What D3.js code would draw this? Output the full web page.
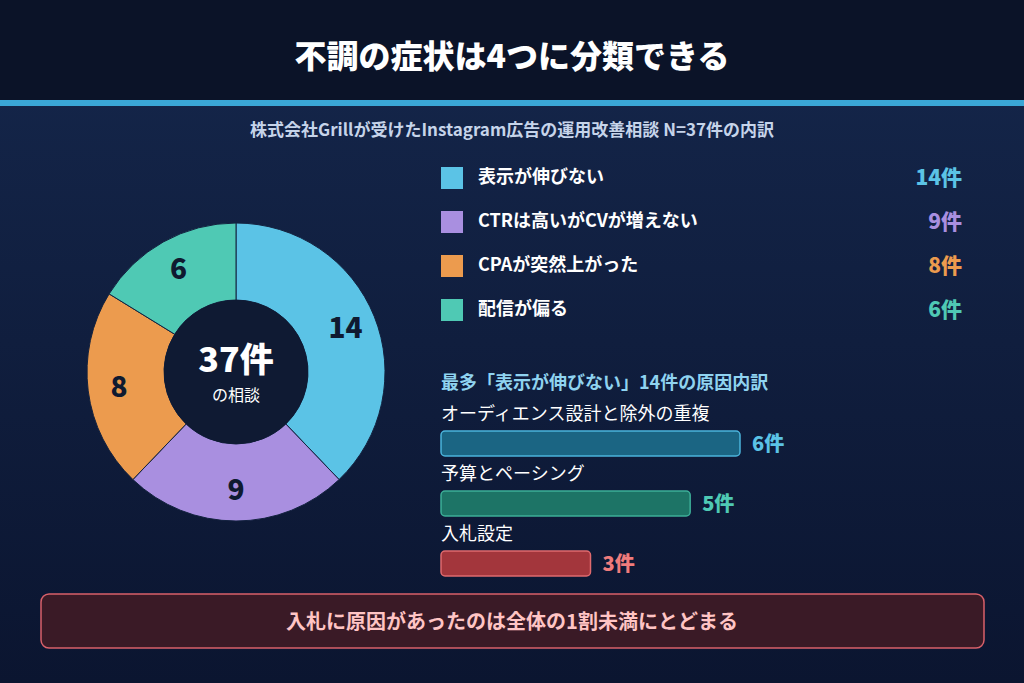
<!DOCTYPE html>
<html><head><meta charset="utf-8">
<script src="https://cdn.jsdelivr.net/npm/d3@7"></script>
<style>body{margin:0;background:#0b1328;}svg{display:block;font-family:"Noto Sans CJK JP",sans-serif;}</style>
</head><body><svg width="1024" height="683"></svg>
<script>
var categories = ['表示が伸びない','CTRは高いがCVが増えない','CPAが突然上がった','配信が偏る'];
var counts = [14, 9, 8, 6];
var colors = ['#5bc3e6','#a98fe0','#ec9b4e','#4fc9b4'];
var causes = ['オーディエンス設計と除外の重複','予算とペーシング','入札設定'];
var causeCounts = [6, 5, 3];
var causeFill = ['#1b6583','#1d7466','#a3363c'];
var causeStroke = ['#4bb4dc','#3cae98','#e06a6e'];
var causeText = ['#5bc3e6','#4fc9b4','#f07c7c'];

var svg = d3.select('svg');
var defs = svg.append('defs');
var g = defs.append('linearGradient').attr('id','bg').attr('x1',0).attr('y1',0).attr('x2',0).attr('y2',1);
g.append('stop').attr('offset','0%').attr('stop-color','#15274c');
g.append('stop').attr('offset','100%').attr('stop-color','#0b1530');
svg.append('rect').attr('width',1024).attr('height',683).attr('fill','url(#bg)');
svg.append('rect').attr('width',1024).attr('height',101).attr('fill','#0b1328');
svg.append('rect').attr('y',100).attr('width',1024).attr('height',6).attr('fill','#3aa6d6');

svg.append('text').attr('x',512).attr('y',68).attr('text-anchor','middle').attr('fill','#fff')
	.attr('font-size',32).attr('font-weight',900).text('不調の症状は4つに分類できる');
svg.append('text').attr('x',512).attr('y',136).attr('text-anchor','middle').attr('fill','#c6d4ea')
	.attr('font-size',17).attr('font-weight',700).text('株式会社Grillが受けたInstagram広告の運用改善相談 N=37件の内訳');

// donut
var cx = 236, cy = 372;
var pie = d3.pie().sort(null)(counts);
var arc = d3.arc().innerRadius(72).outerRadius(149);
var lab = d3.arc().innerRadius(118).outerRadius(118);
var dg = svg.append('g').attr('transform','translate('+cx+','+cy+')');
dg.selectAll('path').data(pie).enter().append('path').attr('d',arc)
	.attr('fill',function(d,i){return colors[i];}).attr('stroke','#13223f').attr('stroke-width',1);
dg.selectAll('text.v').data(pie).enter().append('text')
	.attr('transform',function(d){return 'translate('+lab.centroid(d)+')';})
	.attr('text-anchor','middle').attr('dy','0.36em').attr('fill','#0f1a30')
	.attr('font-size',28).attr('font-weight',900).text(function(d){return d.data;});
dg.append('circle').attr('r',72).attr('fill','#0f1a33');
dg.append('text').attr('y',0).attr('text-anchor','middle').attr('fill','#fff')
	.attr('font-size',34).attr('font-weight',900).text(d3.sum(counts)+'件');
dg.append('text').attr('y',29).attr('text-anchor','middle').attr('fill','#fff')
	.attr('font-size',16).text('の相談');

// legend
var ly = d3.scaleBand().domain(d3.range(categories.length)).range([155,331]);
var lg = svg.selectAll('g.lg').data(categories).enter().append('g')
	.attr('transform',function(d,i){return 'translate(0,'+(ly(i)+ly.bandwidth()/2)+')';});
lg.append('rect').attr('x',441).attr('y',-10).attr('width',22).attr('height',22)
	.attr('fill',function(d,i){return colors[i];});
lg.append('text').attr('x',478).attr('dy','0.36em').attr('fill','#fff')
	.attr('font-size',18).attr('font-weight',700).text(function(d){return d;});
lg.append('text').attr('x',962).attr('dy','0.36em').attr('text-anchor','end')
	.attr('fill',function(d,i){return colors[i];}).attr('font-size',21).attr('font-weight',900)
	.text(function(d,i){return counts[i]+'件';});

// cause bars
svg.append('text').attr('x',441).attr('y',389).attr('fill','#8fd3f0')
	.attr('font-size',18).attr('font-weight',700).text('最多「表示が伸びない」14件の原因内訳');
var x = d3.scaleLinear().domain([0,6]).range([0,299]);
var by = d3.scaleBand().domain(d3.range(causes.length)).range([400,580]);
var bg = svg.selectAll('g.cb').data(causes).enter().append('g')
	.attr('transform',function(d,i){return 'translate(441,'+by(i)+')';});
bg.append('text').attr('y',20).attr('fill','#fff').attr('font-size',18).text(function(d){return d;});
bg.append('rect').attr('y',31).attr('height',25).attr('rx',4)
	.attr('width',function(d,i){return x(causeCounts[i]);})
	.attr('fill',function(d,i){return causeFill[i];})
	.attr('stroke',function(d,i){return causeStroke[i];}).attr('stroke-width',1.5);
bg.append('text').attr('x',function(d,i){return x(causeCounts[i])+12;}).attr('y',51)
	.attr('fill',function(d,i){return causeText[i];}).attr('font-size',20).attr('font-weight',900)
	.text(function(d,i){return causeCounts[i]+'件';});

// footer
svg.append('rect').attr('x',41).attr('y',594).attr('width',943).attr('height',54).attr('rx',8)
	.attr('fill','#3a1a26').attr('stroke','#d8606a').attr('stroke-width',1.5);
svg.append('text').attr('x',512).attr('y',629).attr('text-anchor','middle').attr('fill','#ffc4c4')
	.attr('font-size',20).attr('font-weight',700).text('入札に原因があったのは全体の1割未満にとどまる');
</script></body></html>
